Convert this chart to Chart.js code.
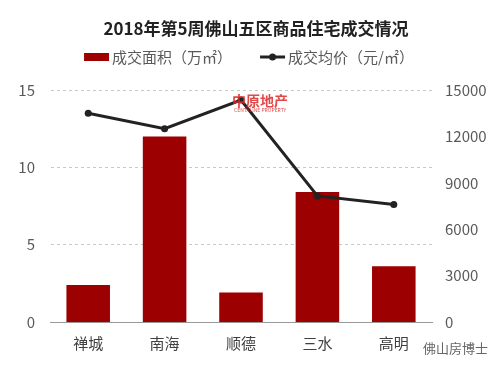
<!DOCTYPE html>
<html>
<head>
<meta charset="utf-8">
<script src="https://cdn.jsdelivr.net/npm/chart.js@4/dist/chart.umd.min.js"></script>
<style>
    html, body { margin: 0; padding: 0; background: #fff; }
    #box { width: 498px; height: 370px; }
</style>
</head>
<body>
<div id="box"><canvas id="myChart"></canvas></div>
<script>
// 区域
const districts = ["禅城", "南海", "顺德", "三水", "高明"];
// 成交面积（万㎡）
const area = [2.4, 12.0, 1.9, 8.4, 3.6];
// 成交均价（元/㎡）
const price = [13500, 12500, 14350, 8150, 7600];
// 左右轴刻度
const leftTicks = [0, 5, 10, 15];
const rightTicks = [0, 3000, 6000, 9000, 12000, 15000];

const TITLE = "2018年第5周佛山五区商品住宅成交情况";
const FONT = "'Noto Sans CJK SC', 'Noto Sans', sans-serif";
const BAR = "#9c0000";
const LINE = "#222222";

// 标题、图例和水印
const decor = {
    id: "decor",
    afterDraw(chart) {
        const ctx = chart.ctx;
        ctx.save();
        ctx.textBaseline = "middle";

        // 标题
        ctx.font = "bold 17px " + FONT;
        ctx.fillStyle = "#222";
        ctx.textAlign = "center";
        ctx.fillText(TITLE, 256, 29);

        // 图例
        ctx.textAlign = "left";
        ctx.font = "15px " + FONT;
        const t1 = "成交面积（万㎡）";
        const t2 = "成交均价（元/㎡）";
        const w1 = ctx.measureText(t1).width;
        const w2 = ctx.measureText(t2).width;
        const total = 25 + 3 + w1 + 28 + 25 + 3 + w2;
        let x = 249 - total / 2;
        const y = 57;
        ctx.fillStyle = BAR;
        ctx.fillRect(x, y - 4, 25, 8);
        ctx.fillStyle = "#595959";
        ctx.fillText(t1, x + 28, y);
        x += 28 + w1 + 28;
        ctx.strokeStyle = LINE;
        ctx.lineWidth = 3;
        ctx.beginPath();
        ctx.moveTo(x, y);
        ctx.lineTo(x + 25, y);
        ctx.stroke();
        ctx.fillStyle = LINE;
        ctx.beginPath();
        ctx.arc(x + 12.5, y, 3.5, 0, Math.PI * 2);
        ctx.fill();
        ctx.fillStyle = "#595959";
        ctx.fillText(t2, x + 28, y);

        // 水印
        ctx.font = "bold 14px " + FONT;
        ctx.fillStyle = "rgba(220,40,40,0.85)";
        ctx.fillText("中原地产", 232, 101);
        ctx.font = "5px " + FONT;
        ctx.fillText("CENTALINE PROPERTY", 234, 110);
        ctx.font = "13px " + FONT;
        ctx.fillStyle = "#666";
        ctx.fillText("佛山房博士", 423, 348);
        ctx.restore();
    }
};

const ctx = document.getElementById("myChart").getContext("2d");

const chart = new Chart(ctx, {
    data: {
        labels: districts,
        datasets: [
            {
                type: "line",
                label: "成交均价（元/㎡）",
                data: price,
                yAxisID: "y1",
                borderColor: LINE,
                backgroundColor: LINE,
                borderWidth: 3,
                pointRadius: 3.5,
                pointBackgroundColor: LINE,
                pointBorderWidth: 0,
                order: 0
            },
            {
                type: "bar",
                label: "成交面积（万㎡）",
                data: area,
                yAxisID: "y",
                backgroundColor: BAR,
                categoryPercentage: 1.0,
                barPercentage: 0.57,
                order: 1
            }
        ]
    },
    options: {
        responsive: true,
        maintainAspectRatio: false,
        animation: false,
        layout: { padding: { left: 0, right: 0, top: 90, bottom: 0 } },
        plugins: {
            title: { display: false },
            legend: { display: false },
            tooltip: { enabled: false }
        },
        scales: {
            x: {
                grid: { display: false, drawTicks: false },
                border: { display: true, color: "#999", width: 1 },
                ticks: { color: "#404040", font: { family: FONT, size: 15 }, padding: 12 },
                afterFit: (s) => { s.height = 48; }
            },
            y: {
                position: "left",
                min: 0,
                max: 15,
                afterBuildTicks: (s) => { s.ticks = leftTicks.map(v => ({ value: v })); },
                grid: {
                    color: "#c8c8c8",
                    drawTicks: false,
                    borderDash: [3, 3],
                    lineWidth: (c) => c.tick.value === 0 ? 0 : 1
                },
                border: { display: true, color: "rgba(0,0,0,0)", dash: [3, 3] },
                ticks: { color: "#595959", font: { family: FONT, size: 15 }, padding: 15 },
                afterFit: (s) => { s.width = 50; }
            },
            y1: {
                position: "right",
                min: 0,
                max: 15000,
                afterBuildTicks: (s) => { s.ticks = rightTicks.map(v => ({ value: v })); },
                grid: { display: false, drawTicks: false },
                border: { display: false },
                ticks: {
                    color: "#595959",
                    font: { family: FONT, size: 15 },
                    padding: 13,
                    callback: (v) => String(v)
                },
                afterFit: (s) => { s.width = 66; }
            }
        }
    },
    plugins: [decor]
});
</script>
</body>
</html>
